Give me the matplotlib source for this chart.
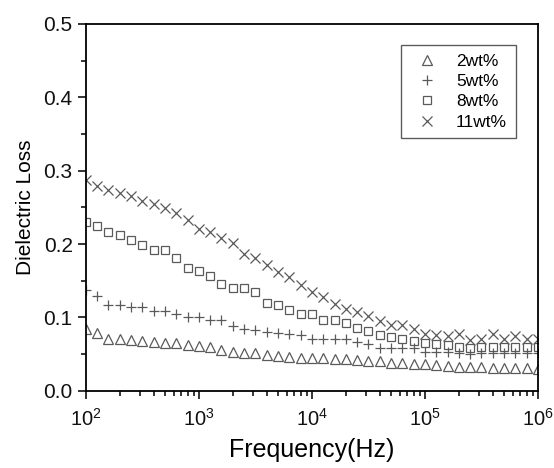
import numpy as np
import matplotlib
matplotlib.use("Agg")
import matplotlib.pyplot as plt
from matplotlib.ticker import MultipleLocator, LogLocator

plt.rcParams['font.family'] = ['Liberation Sans', 'DejaVu Sans']
plt.rcParams['mathtext.fontset'] = 'custom'
plt.rcParams['mathtext.rm'] = 'Liberation Sans'

# frequency grid: 10 points per decade, 1e2 .. 1e6
freq = np.logspace(2, 6, 41)

loss_2wt = [0.084, 0.079, 0.071, 0.070, 0.069, 0.068, 0.067, 0.065, 0.065, 0.062,
            0.061, 0.059, 0.056, 0.053, 0.052, 0.051, 0.049, 0.047, 0.046, 0.045,
            0.044, 0.044, 0.043, 0.043, 0.042, 0.040, 0.040, 0.038, 0.038, 0.037,
            0.036, 0.035, 0.034, 0.033, 0.032, 0.032, 0.031, 0.031, 0.031, 0.031,
            0.030]
loss_5wt = [0.138, 0.129, 0.117, 0.117, 0.114, 0.114, 0.109, 0.109, 0.105, 0.101,
            0.100, 0.096, 0.096, 0.088, 0.084, 0.083, 0.080, 0.079, 0.077, 0.076,
            0.071, 0.071, 0.071, 0.071, 0.067, 0.064, 0.058, 0.058, 0.058, 0.058,
            0.053, 0.053, 0.053, 0.052, 0.050, 0.052, 0.052, 0.052, 0.052, 0.052,
            0.052]
loss_8wt = [0.230, 0.224, 0.217, 0.212, 0.205, 0.199, 0.192, 0.192, 0.181, 0.167,
            0.163, 0.156, 0.146, 0.140, 0.140, 0.135, 0.120, 0.117, 0.110, 0.104,
            0.104, 0.096, 0.096, 0.092, 0.085, 0.082, 0.076, 0.073, 0.071, 0.068,
            0.065, 0.064, 0.063, 0.060, 0.058, 0.060, 0.059, 0.059, 0.059, 0.059,
            0.059]
loss_11wt = [0.287, 0.279, 0.274, 0.269, 0.265, 0.258, 0.255, 0.249, 0.242, 0.233,
             0.221, 0.217, 0.208, 0.201, 0.187, 0.181, 0.171, 0.162, 0.155, 0.144,
             0.134, 0.128, 0.118, 0.111, 0.108, 0.102, 0.095, 0.090, 0.090, 0.084,
             0.078, 0.076, 0.074, 0.077, 0.069, 0.071, 0.077, 0.071, 0.074, 0.071,
             0.071]

labels = ['2wt%', '5wt%', '8wt%', '11wt%']
markers = ['^', '+', 's', 'x']
sizes = [6.5, 6.5, 5.5, 6.5]
mcol = '#5a5a5a'

fig = plt.figure(figsize=(5.54, 4.68), dpi=100)
ax = fig.add_axes([0.155, 0.165, 0.816, 0.784])

for y, lab, m, ms in zip([loss_2wt, loss_5wt, loss_8wt, loss_11wt], labels, markers, sizes):
    if m in ('+', 'x'):
        ax.plot(freq, y, linestyle='none', marker=m, markersize=ms,
                color=mcol, markeredgewidth=0.9, label=lab)
    else:
        ax.plot(freq, y, linestyle='none', marker=m, markersize=ms,
                markerfacecolor='none', markeredgecolor=mcol,
                markeredgewidth=0.9, label=lab)

ax.set_xscale('log')
ax.set_xlim(1e2, 1e6)
ax.set_ylim(0, 0.5)
ax.yaxis.set_major_locator(MultipleLocator(0.1))
ax.yaxis.set_minor_locator(MultipleLocator(0.05))
ax.xaxis.set_major_locator(LogLocator(base=10, numticks=10))
ax.xaxis.set_minor_locator(LogLocator(base=10, subs=np.arange(2, 10), numticks=10))

for s in ax.spines.values():
    s.set_linewidth(1.3)
ax.tick_params(which='major', direction='out', length=6, width=1.2, colors='#111111')
ax.tick_params(which='minor', direction='out', length=3.5, width=1.1)
ax.tick_params(axis='y', labelsize=15)
ax.tick_params(axis='x', labelsize=14.5, pad=6)

ax.set_xlabel('Frequency(Hz)', fontsize=18, labelpad=6)
ax.set_ylabel('Dielectric Loss', fontsize=15, labelpad=6)

leg = ax.legend(loc='upper right', bbox_to_anchor=(0.951, 0.943),
                borderaxespad=0, fontsize=12.5, frameon=True, fancybox=False,
                edgecolor='#333333', handletextpad=0.6, labelspacing=0.3,
                borderpad=0.5, handlelength=2.1)
leg.get_frame().set_linewidth(1.0)

plt.savefig('out.png', dpi=100)
